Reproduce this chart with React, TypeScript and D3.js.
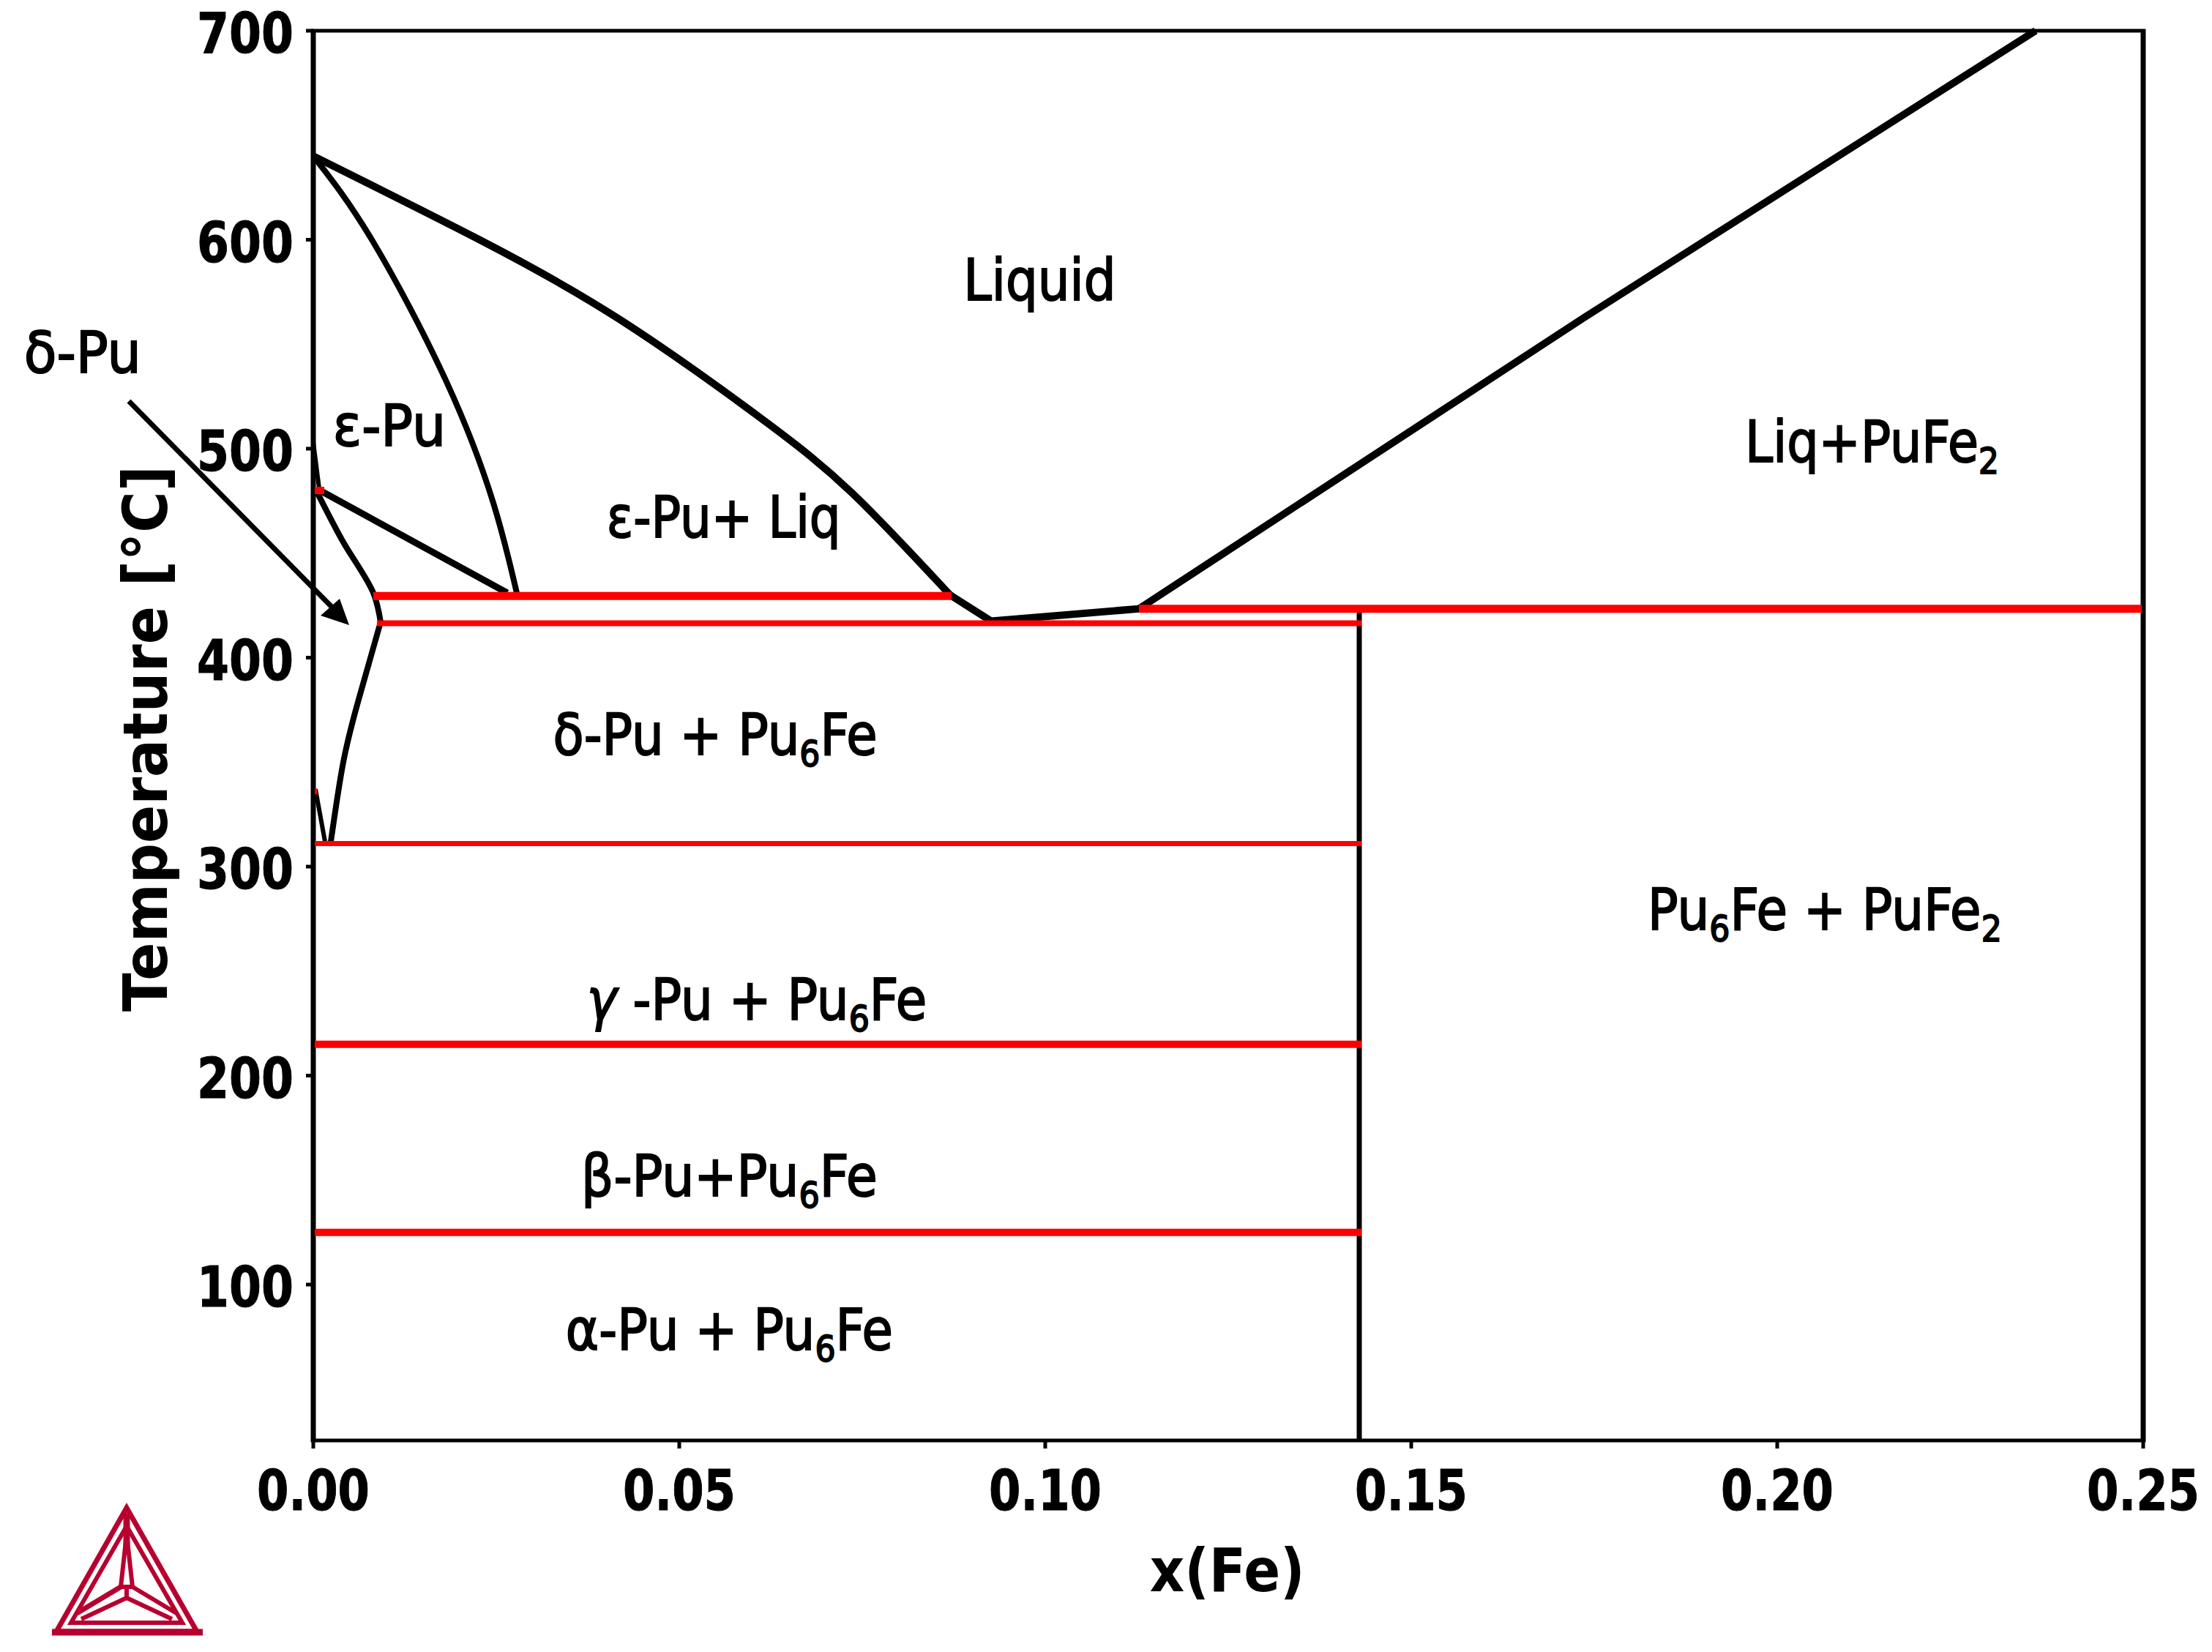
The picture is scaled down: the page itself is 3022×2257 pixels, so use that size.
import React from "react";
import * as d3 from "d3";

// ---- data (x = mole fraction Fe, T = °C) ----
const xTicks = [0, 0.05, 0.1, 0.15, 0.2, 0.25];
const yTicks = [100, 200, 300, 400, 500, 600, 700];
const liquidusLeft: [number, number][] = [[0, 640], [0.0227, 600], [0.0418, 562], [0.061, 515], [0.0737, 478.5], [0.087, 430]];
const eutecticDip: [number, number][] = [[0.087, 430], [0.0926, 417.5], [0.1128, 423.4]];
const liquidusRight: [number, number][] = [[0.1128, 423.4], [0.1735, 562.5], [0.2353, 700]];
const epsSolidus: [number, number][] = [[0, 640], [0.008, 600], [0.0182, 532], [0.0246, 474], [0.0278, 431]];
const epsBottom: [number, number][] = [[0.0004, 481], [0.0265, 431]];
const deltaTop: [number, number][] = [[0, 503], [0.0008, 481]];
const deltaUpper: [number, number][] = [[0.0004, 480], [0.0039, 456.5], [0.0082, 431], [0.0092, 417]];
const deltaLower: [number, number][] = [[0.0092, 417], [0.0062, 380], [0.0041, 350], [0.0024, 312]];
const deltaFoot: [number, number][] = [[0.0003, 337], [0.0016, 312]];
const compound = { x: 0.1429, top: 423.4 };
const redLines: { T: number; x0: number; x1: number; w: number }[] = [
  { T: 429.5, x0: 0.0082, x1: 0.0872, w: 11 },
  { T: 416.5, x0: 0.0087, x1: 0.1432, w: 8 },
  { T: 423.4, x0: 0.1128, x1: 0.2498, w: 11 },
  { T: 311, x0: 0.0002, x1: 0.1432, w: 7 },
  { T: 215, x0: 0.0002, x1: 0.1432, w: 10 },
  { T: 125, x0: 0.0002, x1: 0.1432, w: 10 },
];

const S = 3022 / 1568;
type Part = { t: string; sub?: boolean; it?: boolean };
const phaseLabels: { parts: Part[]; x0: number; x1: number; base: number }[] = [
  { parts: [{ t: "Liquid" }], x0: 683, x1: 791, base: 212.5 },
  { parts: [{ t: "Liq+PuFe" }, { t: "2", sub: true }], x0: 1237, x1: 1417, base: 327.5 },
  { parts: [{ t: "ε-Pu" }], x0: 236, x1: 316, base: 316 },
  { parts: [{ t: "ε-Pu+ Liq" }], x0: 430, x1: 596, base: 381 },
  { parts: [{ t: "δ-Pu + Pu" }, { t: "6", sub: true }, { t: "Fe" }], x0: 392, x1: 622, base: 535 },
  { parts: [{ t: "Pu" }, { t: "6", sub: true }, { t: "Fe + PuFe" }, { t: "2", sub: true }], x0: 1168, x1: 1419, base: 659 },
  { parts: [{ t: "γ", it: true }, { t: " -Pu + Pu" }, { t: "6", sub: true }, { t: "Fe" }], x0: 416, x1: 657, base: 723 },
  { parts: [{ t: "β-Pu+Pu" }, { t: "6", sub: true }, { t: "Fe" }], x0: 412, x1: 622, base: 848 },
  { parts: [{ t: "α-Pu + Pu" }, { t: "6", sub: true }, { t: "Fe" }], x0: 401, x1: 633, base: 957 },
  { parts: [{ t: "δ-Pu" }], x0: 17, x1: 100, base: 264 },
];

const W = 3022, H = 2257;
const FONT = "'DejaVu Sans', sans-serif";
const RED = "#ff0000";
const LOGO = "#b8002f";

const xScale = d3.scaleLinear().domain([0, 0.25]).range([428, 2928]);
const yScale = d3.scaleLinear().domain([700, 100]).range([42, 1755]);
const yBottom = 1968;

const line = d3.line<[number, number]>().x((d) => xScale(d[0])).y((d) => yScale(d[1]));
const curve = d3.line<[number, number]>().x((d) => xScale(d[0])).y((d) => yScale(d[1])).curve(d3.curveNatural);

const logoPaths: [string, number][] = [
  ["M173 2060 L77 2229 L269 2229 Z", 7],
  ["M71 2230 L277 2230", 9],
  ["M173 2085 L97 2217 L249 2217 Z", 6],
  ["M173 2068 L173 2112", 9],
  ["M172 2105 L165 2168 L181 2168 L174 2105 Z", 6],
  ["M173 2168 L173 2183", 6],
  ["M165 2168 L105 2204", 7],
  ["M173 2183 L111 2212", 6],
  ["M181 2168 L241 2204", 6],
  ["M173 2183 L235 2212", 6],
];

export default function App() {
  return (
    <svg width={W} height={H} viewBox={`0 0 ${W} ${H}`} style={{ position: "absolute", left: 0, top: 0, background: "#fff" }}>
      {/* curves */}
      <g fill="none" stroke="#000" strokeLinejoin="round">
        <path d={curve(liquidusLeft)!} strokeWidth={10} />
        <path d={line(eutecticDip)!} strokeWidth={10} />
        <path d={curve(liquidusRight)!} strokeWidth={10} />
        <path d={curve(epsSolidus)!} strokeWidth={8} />
        <path d={line(epsBottom)!} strokeWidth={9} />
        <path d={line(deltaTop)!} strokeWidth={6} />
        <path d={d3.line<[number, number]>().x((d) => xScale(d[0])).y((d) => yScale(d[1])).curve(d3.curveCatmullRom.alpha(0.5))(deltaUpper)!} strokeWidth={8} />
        <path d={curve(deltaLower)!} strokeWidth={8} />
        <path d={line(deltaFoot)!} strokeWidth={6} />
        <line x1={xScale(compound.x)} x2={xScale(compound.x)} y1={yScale(compound.top)} y2={yBottom} strokeWidth={7} />
      </g>

      {/* frame */}
      <g stroke="#000" fill="none">
        <line x1={428} x2={428} y1={40} y2={yBottom + 2} strokeWidth={7} />
        <line x1={2928} x2={2928} y1={40} y2={yBottom + 2} strokeWidth={7} />
        <line x1={425} x2={2931} y1={42} y2={42} strokeWidth={5} />
        <line x1={425} x2={2931} y1={yBottom} y2={yBottom} strokeWidth={5} />
        {xTicks.map((t) => (
          <line key={t} x1={xScale(t)} x2={xScale(t)} y1={yBottom} y2={yBottom + 11} strokeWidth={5} />
        ))}
        {yTicks.map((t) => (
          <line key={t} x1={428} x2={418} y1={yScale(t)} y2={yScale(t)} strokeWidth={5} />
        ))}
      </g>

      {/* invariant lines */}
      {redLines.map((r) => (
        <line key={r.T} x1={xScale(r.x0)} x2={xScale(r.x1)} y1={yScale(r.T)} y2={yScale(r.T)} stroke={RED} strokeWidth={r.w} />
      ))}
      <rect x={xScale(0.0002)} y={yScale(480) - 5} width={13} height={10} fill={RED} />
      <rect x={xScale(0.0002)} y={yScale(336) - 4} width={3} height={8} fill={RED} />

      {/* tick labels */}
      <g fontFamily={FONT} fontWeight="bold" fontSize={76} fill="#000" stroke="#000" strokeWidth={1}>
        {xTicks.map((t) => (
          <text key={t} x={xScale(t)} y={2063} textAnchor="middle" textLength={154} lengthAdjust="spacingAndGlyphs">
            {t.toFixed(2)}
          </text>
        ))}
        {yTicks.map((t) => (
          <text key={t} x={401} y={yScale(t) + 30} textAnchor="end" textLength={132} lengthAdjust="spacingAndGlyphs">
            {t}
          </text>
        ))}
      </g>

      {/* axis titles */}
      <text x={870 * S} y={1128 * S} textAnchor="middle" fontFamily={FONT} fontWeight="bold" fontSize={82} textLength={212} lengthAdjust="spacingAndGlyphs">
        x(Fe)
      </text>
      <text transform={`translate(228,${523.5 * S}) rotate(-90)`} textAnchor="middle" fontFamily={FONT} fontWeight="bold" fontSize={84} textLength={746} lengthAdjust="spacingAndGlyphs">
        Temperature [°C]
      </text>

      {/* phase labels */}
      <g fontFamily={FONT} fill="#000" stroke="#000" strokeWidth={2}>
        {phaseLabels.map((l, i) => (
          <text key={i} x={l.x0 * S} y={l.base * S} textLength={(l.x1 - l.x0) * S} lengthAdjust="spacingAndGlyphs">
            {l.parts.map((p, j) => {
              const prevSub = j > 0 && l.parts[j - 1].sub;
              return (
                <tspan
                  key={j}
                  fontSize={p.sub ? 50 : 78}
                  fontStyle={p.it ? "italic" : undefined}
                  dy={p.sub ? 16 : prevSub ? -16 : 0}
                >
                  {p.t}
                </tspan>
              );
            })}
          </text>
        ))}
      </g>

      {/* δ-Pu arrow */}
      <line x1={176} y1={548} x2={459} y2={835} stroke="#000" strokeWidth={7} />
      <polygon points="477,854 438,841 464,818" fill="#000" />

      {/* logo */}
      <g fill="none" stroke={LOGO}>
        {logoPaths.map(([d, w], i) => (
          <path key={i} d={d} strokeWidth={w} />
        ))}
      </g>
    </svg>
  );
}
